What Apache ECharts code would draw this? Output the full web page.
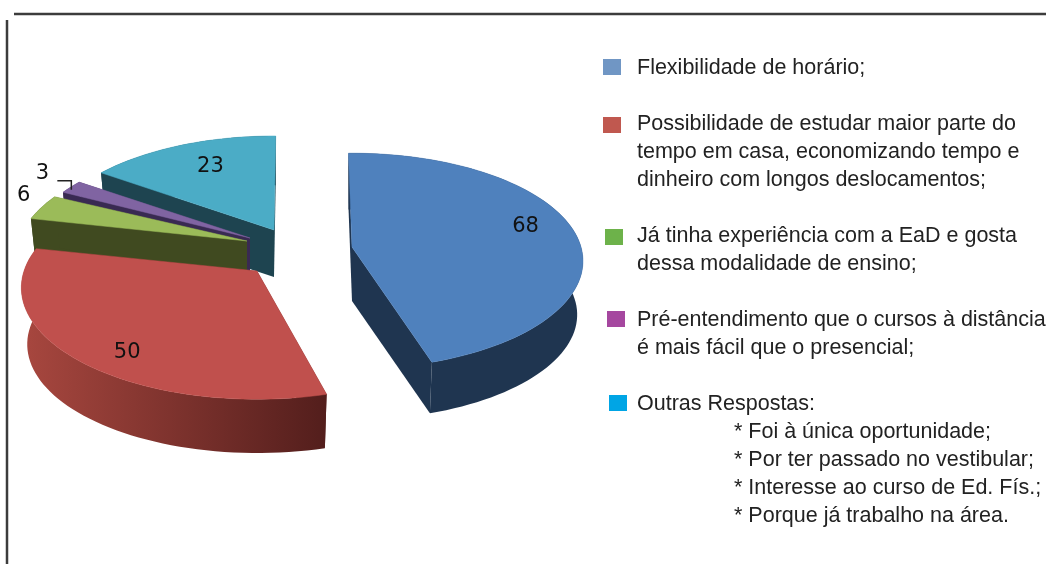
<!DOCTYPE html>
<html><head><meta charset="utf-8">
<style>html,body{margin:0;padding:0;background:#fff}#c{width:1046px;height:564px;filter:blur(0.4px)}</style>
<script src="https://cdn.jsdelivr.net/npm/echarts@6/dist/echarts.min.js"></script>
</head><body><div id="c"></div>
<script>
// ---- data ----
const categories = ['Flexibilidade de horário','Possibilidade de estudar','Já tinha experiência','Pré-entendimento','Outras Respostas'];
const values = [68, 50, 6, 3, 23];
const legendLines = [
  ['Flexibilidade de horário;'],
  ['Possibilidade de estudar maior parte do','tempo em casa, economizando tempo e','dinheiro com longos deslocamentos;'],
  ['Já tinha experiência com a EaD e gosta','dessa modalidade de ensino;'],
  ['Pré-entendimento que o cursos à distância','é mais fácil que o presencial;'],
  ['Outras Respostas:']
];
const noteLines = ['* Foi à única oportunidade;','* Por ter passado no vestibular;','* Interesse ao curso de Ed. Fís.;','* Porque já trabalho na área.'];
// ---- style / layout ----
const topColors = ['#4F81BD','#C0504D','#9BBB59','#8064A2','#4BACC6'];
const wallColors = [['#1F3550','#1F3550'],['#A8473F','#531E1C'],['#404A20','#404A20'],['#392A52','#392A52'],['#1E4450','#1E4450']];
const swatchColors = ['#7096C4','#C0584F','#6DB24A','#A5479F','#00A5E5'];
const explodedCentres = [[352,247],[257,271],[247,241],[250,238],[274,230]];
// per-slice perspective: horizontal radius, vertical radius, foreshortening, depth
const sliceRX = [229,233,229,225,231];
const sliceRY = [106,109,110,110,110];
const sliceK  = [.13,.15,.17,.17,.17];
const sliceDepth = [54,57,50,50,47];
const angleNudge = [[0,0],[3,0],[0,-1],[0,0],[1,1.5]];
const z2 = [50,40,30,20,10];
const labelPlace = [[-6.4,.81],[-5,.83],[4.4,1.15],[3.0,1.229],[3.8,.73]];
const swatchBoxes = [[603,59],[603,117],[605,229],[607,311],[609,395]];
const legendFirstY = [68,124,236,320,404];
const startAngle = -91, BOTTOM = .975;
const total = values.reduce((a,b)=>a+b,0);

function project(i, deg, r, h){
  const c = explodedCentres[i], t = deg*Math.PI/180, X = r*Math.cos(t), Y = r*Math.sin(t), d = 1-sliceK[i]*Y;
  const s = h ? BOTTOM : 1;
  return [c[0] + s*sliceRX[i]*X/d, c[1] + s*sliceRY[i]*Y/d + (h?sliceDepth[i]:0)];
}
function arc(i,a0,a1,h){
  const n = Math.max(2,Math.ceil((a1-a0)/2)), p=[];
  for(let k=0;k<=n;k++) p.push(project(i,a0+(a1-a0)*k/n,1,h));
  return p;
}
function renderItem(params, api){
  const i = params.dataIndex, v = api.value(0);
  let a0 = startAngle; for(let k=0;k<i;k++) a0 += values[k]/total*360;
  const a1 = a0 + v/total*360, c = explodedCentres[i], zz = z2[i];
  const s0 = a0+angleNudge[i][0], s1 = a1+angleNudge[i][1];
  const cb = [c[0], c[1]+sliceDepth[i]];
  const top = arc(i,s0,s1,0), bot = arc(i,s0,s1,1);
  const xs = top.map(p=>p[0]);
  const wallFill = new echarts.graphic.LinearGradient(Math.min(...xs),0,Math.max(...xs),0,
     [{offset:0,color:wallColors[i][0]},{offset:1,color:wallColors[i][1]}],true);
  const solid = wallColors[i][1];
  const kids = [
    {type:'polygon',z2:zz,shape:{points:[c,top[0],bot[0],cb]},style:{fill:solid}},
    {type:'polygon',z2:zz,shape:{points:[c,top[top.length-1],bot[bot.length-1],cb]},style:{fill:solid}},
    {type:'polygon',z2:zz+1,shape:{points:top.concat(bot.slice().reverse())},style:{fill:wallFill}},
    {type:'polygon',z2:zz+2,shape:{points:[c].concat(top)},style:{fill:topColors[i],stroke:topColors[i],lineWidth:.5}}
  ];
  const mid = (a0+a1)/2, lp = project(i, mid+labelPlace[i][0], labelPlace[i][1], 0);
  kids.push({type:'text',z2:100,style:{text:String(v),x:lp[0],y:lp[1]+2,font:'21px "DejaVu Sans"',fill:'#111',align:'center',verticalAlign:'middle'}});
  if(i===3){
    const e = project(i, mid, .985, 0);
    const ex = e[0]-2, ey = e[1]+3;
    kids.push({type:'polyline',z2:100,shape:{points:[[ex-14,ey-10],[ex,ey-10],[ex,ey-1]]},style:{stroke:'#222',lineWidth:1.5,fill:null}});
  }
  return {type:'group',children:kids};
}
const graphics = [
  {type:'line',shape:{x1:14,y1:14,x2:1046,y2:14},style:{stroke:'#3c3c3c',lineWidth:2.5}},
  {type:'line',shape:{x1:7,y1:20,x2:7,y2:564},style:{stroke:'#3c3c3c',lineWidth:2.5}}
];
const LEAD = 28, FONT = '21.5px "Liberation Sans"';
legendLines.forEach((ls,i)=>{
  graphics.push({type:'rect',shape:{x:swatchBoxes[i][0],y:swatchBoxes[i][1],width:18,height:16},style:{fill:swatchColors[i]}});
  ls.forEach((t,j)=>graphics.push({type:'text',style:{text:t,x:637,y:legendFirstY[i]+j*LEAD,font:FONT,fill:'#222',verticalAlign:'middle'}}));
});
noteLines.forEach((t,j)=>graphics.push({type:'text',style:{text:t,x:734,y:legendFirstY[4]+(j+1)*LEAD,font:FONT,fill:'#222',verticalAlign:'middle'}}));

const chart = echarts.init(document.getElementById('c'),null,{renderer:'canvas'});
chart.setOption({
  animation:false,
  backgroundColor:'#fff',
  graphic:graphics,
  series:[{type:'custom',coordinateSystem:'none',renderItem,data:values.map((v,i)=>({name:categories[i],value:[v]})),silent:true}]
});
</script></body></html>
